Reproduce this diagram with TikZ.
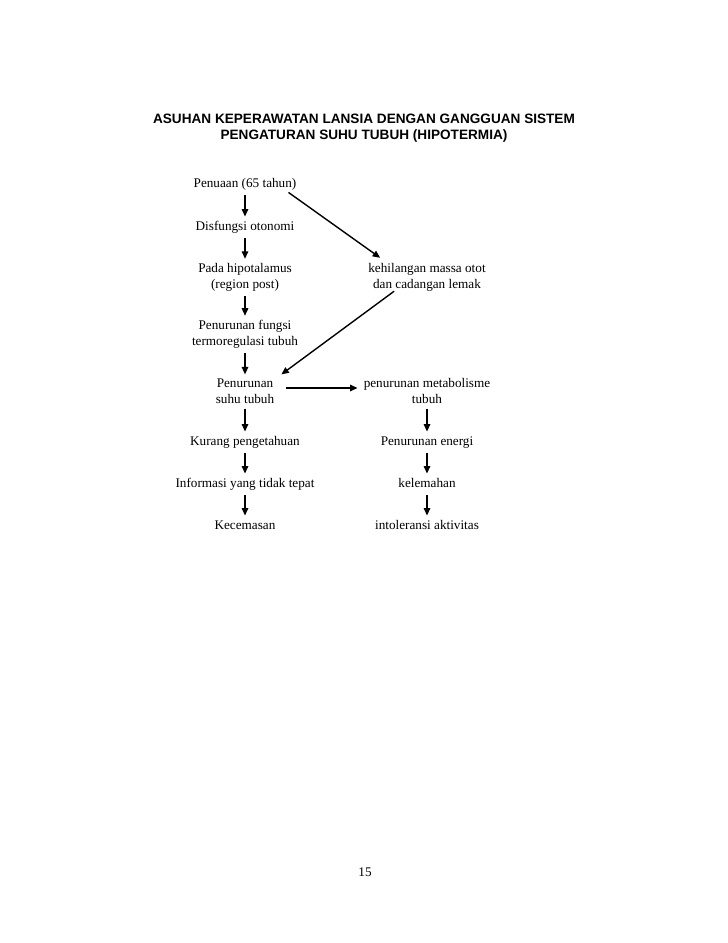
\documentclass[tikz,border=0pt]{standalone}
\usepackage{fontspec}
\setmainfont{Liberation Serif}
\newfontfamily\titlefont{Liberation Sans}
\usetikzlibrary{arrows.meta,calc}
\begin{document}
\begin{tikzpicture}[x=1pt,y=-1pt,
  lbl/.style={align=center,inner sep=2pt,font=\fontsize{13.2}{16}\selectfont},
  one/.style={lbl,text height=9.5pt,text depth=3pt},
  arr/.style={line width=1.4pt,-{Triangle[length=7.5pt,width=6.5pt]},shorten <=3pt,shorten >=2pt},
  ttl/.style={align=center,inner sep=0pt,font=\titlefont\bfseries\fontsize{13.6}{16}\selectfont}]
\useasboundingbox (0,0) rectangle (728,943);
\node[ttl] (title) at (364,128) {ASUHAN KEPERAWATAN LANSIA DENGAN GANGGUAN SISTEM\\PENGATURAN SUHU TUBUH (HIPOTERMIA)};
% left column
\node[one] (p) at (245,184) {Penuaan (65 tahun)};
\node[one] (d) at (245,227) {Disfungsi otonomi};
\node[lbl] (h) at (245,277) {Pada hipotalamus\\(region post)};
\node[lbl] (f) at (245,334) {Penurunan fungsi\\termoregulasi tubuh};
\node[lbl] (s) at (245,391) {Penurunan\\suhu tubuh};
\node[one] (k) at (245,442) {Kurang pengetahuan};
\node[one] (i) at (245,484) {Informasi yang tidak tepat};
\node[one] (c) at (245,526) {Kecemasan};
% right column
\node[lbl] (m) at (427,277) {kehilangan massa otot\\dan cadangan lemak};
\node[lbl] (mb) at (427,391) {penurunan metabolisme\\tubuh};
\node[one] (e) at (427,442) {Penurunan energi};
\node[one] (w) at (427,484) {kelemahan};
\node[one] (t) at (427,526) {intoleransi aktivitas};
% page number
\node[one] (pg) at (365,873) {15};
% arrows
\draw[arr] (p) -- (d);
\draw[arr] (d) -- (h);
\draw[arr] (h) -- (f);
\draw[arr] (f) -- (s);
\draw[arr] (s) -- (k);
\draw[arr] (k) -- (i);
\draw[arr] (i) -- (c);
\draw[arr] (mb) -- (e);
\draw[arr] (e) -- (w);
\draw[arr] (w) -- (t);
\draw[arr,shorten <=0pt,shorten >=0pt] ($(p.south east)+(-10,0)$) -- ($(m.north west)+(14,-3)$);
\draw[arr,shorten <=0pt,shorten >=0pt] ($(m.south west)+(28,-2)$) -- ($(s.north east)+(5,-2)$);
\draw[arr,shorten <=0pt,shorten >=0pt] ($(s.east)+(10,-3)$) -- ($(mb.west)+(-4,-3)$);
\end{tikzpicture}
\end{document}
